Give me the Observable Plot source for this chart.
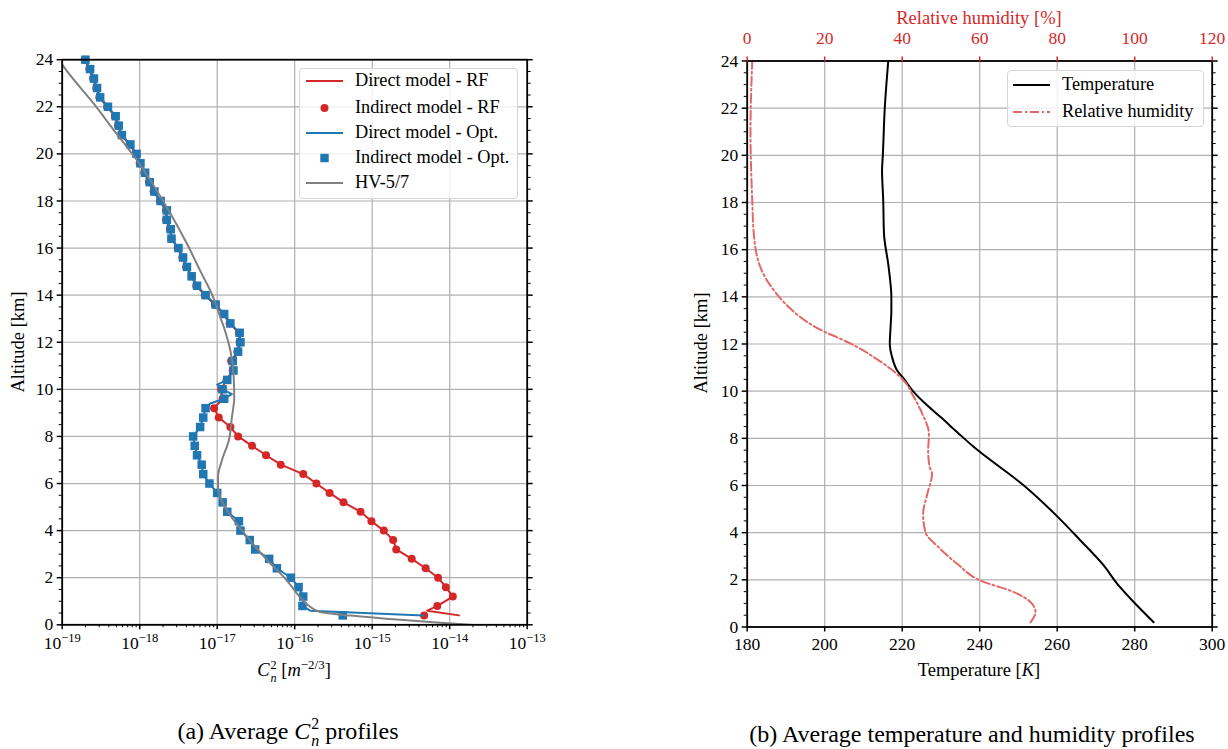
<!DOCTYPE html>
<html><head><meta charset="utf-8">
<script src="https://cdn.jsdelivr.net/npm/d3@7"></script>
<script src="https://cdn.jsdelivr.net/npm/@observablehq/plot@0.6"></script>
<style>
body{margin:0;background:#fff;font-family:"Liberation Serif","DejaVu Serif",serif;color:#000;}
#root{position:relative;width:1228px;height:749px;overflow:hidden;background:#fff;}
.abs{position:absolute;white-space:nowrap;}
.lbl{font-size:18.5px;}
.cap{font-size:24px;}
.legend{position:absolute;border:1px solid #d5d5d5;border-radius:4px;background:rgba(255,255,255,0.8);box-sizing:border-box;}
.legend .row{position:absolute;left:0;right:0;height:0;}
.legend .txt{position:absolute;font-size:18.3px;transform:translateY(-52%);white-space:nowrap;}
.mathsub{display:inline-flex;flex-direction:column;vertical-align:middle;font-size:0.66em;line-height:1.05;margin-left:1px;}
</style></head><body><div id="root"></div><script>
// ---------- data ----------
// Altitudes (km) of the indirect-model samples
const indirectAlt = [0.4,0.8,1.2,1.6,2.0,2.4,2.8,3.2,3.6,4.0,4.4,4.8,5.2,5.6,6.0,6.4,6.8,7.2,7.6,8.0,8.4,8.8,9.2,9.6,10.0,10.4,10.8,11.2,11.6,12.0,12.4,12.8,13.2,13.6,14.0,14.4,14.8,15.2,15.6,16.0,16.4,16.8,17.2,17.6,18.0,18.4,18.8,19.2,19.6,20.0,20.4,20.8,21.2,21.6,22.0,22.4,22.8,23.2,23.6,24.0];
// log10(Cn2) of indirect model - Opt.
const indirectOptLog = [-15.38,-15.90,-15.89,-15.95,-16.05,-16.23,-16.33,-16.51,-16.58,-16.70,
  -16.72,-16.87,-16.93,-17.00,-17.10,-17.18,-17.20,-17.26,-17.29,-17.31,
  -17.22,-17.18,-17.15,-16.91,-16.93,-16.87,-16.79,-16.80,-16.73,-16.70,
  -16.71,-16.83,-16.91,-17.02,-17.15,-17.26,-17.33,-17.39,-17.44,-17.50,
  -17.59,-17.60,-17.65,-17.65,-17.73,-17.81,-17.87,-17.93,-17.99,-18.04,
  -18.12,-18.23,-18.27,-18.31,-18.41,-18.51,-18.55,-18.59,-18.64,-18.70];
// log10(Cn2) of indirect model - RF
const indirectRfLog = [-14.33,-14.16,-13.96,-14.05,-14.15,-14.31,-14.49,-14.69,-14.73,-14.85,
  -15.01,-15.15,-15.37,-15.55,-15.72,-15.89,-16.18,-16.37,-16.55,-16.73,
  -16.83,-16.98,-17.04,-16.93,-16.95,-16.88,-16.80,-16.82,-16.74,-16.71,
  -16.72,-16.84,-16.92,-17.03,-17.16,-17.27,-17.33,-17.40,-17.45,-17.51,
  -17.59,-17.61,-17.66,-17.66,-17.74,-17.82,-17.88,-17.94,-18.00,-18.05,
  -18.13,-18.24,-18.28,-18.32,-18.42,-18.52,-18.56,-18.60,-18.65,-18.71];
// Direct model - RF
const directRfAlt = [0.4,0.6,0.8,1.2,1.6,2.0,2.4,2.8,3.2,3.6,4.0,4.4,4.8,5.2,5.6,6.0,6.4,6.8,7.2,7.6,8.0,8.4,8.8,9.2,9.6,10.0,10.4,10.8,11.2,11.6,12.0,12.4,12.8,13.2,13.6,14.0,14.4,14.8,15.2,15.6,16.0,16.4,16.8,17.2,17.6,18.0,18.4,18.8,19.2,19.6,20.0,20.4,20.8,21.2,21.6,22.0,22.4,22.8,23.2,23.6,24.0];
const directRfLog = [-13.88,-14.29,-14.16,-13.96,-14.05,-14.15,-14.31,-14.49,-14.69,-14.73,-14.85,
  -15.01,-15.15,-15.37,-15.55,-15.72,-15.89,-16.18,-16.37,-16.55,-16.73,
  -16.83,-16.98,-17.04,-16.93,-16.95,-16.88,-16.80,-16.82,-16.74,-16.71,
  -16.72,-16.84,-16.92,-17.03,-17.16,-17.27,-17.33,-17.40,-17.45,-17.51,
  -17.59,-17.61,-17.66,-17.66,-17.74,-17.82,-17.88,-17.94,-18.00,-18.05,
  -18.13,-18.24,-18.28,-18.32,-18.42,-18.52,-18.56,-18.60,-18.65,-18.71];
// Direct model - Opt.
const directOptAlt = [0.4,0.6,0.8,1.2,1.6,2.0,2.4,2.8,3.2,3.6,4.0,4.4,4.8,5.2,5.6,6.0,6.4,6.8,7.2,7.6,8.0,8.4,8.8,9.2,9.4,9.6,9.8,10.0,10.2,10.4,10.8,11.2,11.6,12.0,12.4,12.8,13.2,13.6,14.0,14.4,14.8,15.2,15.6,16.0,16.4,16.8,17.2,17.6,18.0,18.4,18.8,19.2,19.6,20.0,20.4,20.8,21.2,21.6,22.0,22.4,22.8,23.2,23.6,24.0];
const directOptLog = [-14.34,-15.80,-15.90,-15.89,-15.95,-16.05,-16.23,-16.33,-16.51,-16.58,-16.70,
  -16.72,-16.87,-16.93,-17.00,-17.10,-17.18,-17.20,-17.26,-17.29,-17.31,
  -17.22,-17.18,-17.15,-17.09,-16.91,-16.81,-16.93,-17.00,-16.87,-16.79,-16.80,-16.73,-16.70,
  -16.71,-16.83,-16.91,-17.02,-17.15,-17.26,-17.33,-17.39,-17.44,-17.50,
  -17.59,-17.60,-17.65,-17.65,-17.73,-17.81,-17.87,-17.93,-17.99,-18.04,
  -18.12,-18.23,-18.27,-18.31,-18.41,-18.51,-18.55,-18.59,-18.64,-18.70];
// HV-5/7 reference profile
const hvAlt = [0,0.11,0.21,0.39,0.54,0.82,1.17,1.88,2.73,3.72,4.64,5.42,5.84,6.27,6.98,7.83,8.82,9.66,10.66,11.65,12.5,13.06,13.98,15.04,16.18,17.45,19.93,20.99,22.12,23.75,24.0];
const hvLog = [-13.73,-14.21,-14.64,-15.28,-15.67,-15.82,-15.93,-16.10,-16.35,-16.61,-16.83,-16.96,-16.99,-16.99,-16.94,-16.85,-16.81,-16.78,-16.79,-16.83,-16.90,-16.96,-17.06,-17.22,-17.39,-17.60,-18.08,-18.33,-18.59,-18.99,-19.04];
// Temperature profile
const tempAlt = [0.2,1.05,1.83,2.61,3.67,4.66,6.0,7.63,8.26,8.9,9.39,9.96,10.53,10.88,11.44,12.01,12.71,13.42,13.99,15.26,16.68,18.09,19.36,20.0,22.0,24.0];
const tempK = [284.9,279.8,275.5,272.0,266.0,260.2,251.4,238.5,234.2,229.9,226.5,223.0,220.4,218.7,217.4,216.8,217.0,217.2,217.2,216.5,215.3,215.1,214.8,215.0,215.5,216.4];
// Relative humidity profile
const rhAlt = [0.2,0.63,1.06,1.48,1.97,2.68,3.38,4.02,4.8,5.65,6.5,6.78,7.46,8.19,9.04,9.75,10.45,10.95,11.44,11.87,12.22,12.53,12.93,13.49,14.27,15.26,16.68,18.09,21.0,24.0];
const rhPct = [73.1,74.4,73.1,68.8,60.2,54.2,49.4,46.0,45.4,46.5,47.7,47.1,46.7,46.9,45.2,43.0,40.4,37.0,32.7,28.4,24.1,19.8,15.5,11.2,6.9,3.4,1.7,1.3,0.85,1.3];
// Tick labels
const cnTickExp = [-19,-18,-17,-16,-15,-14,-13];
const altTicks = [0,2,4,6,8,10,12,14,16,18,20,22,24];
const tempTicks = [180,200,220,240,260,280,300];
const rhTicks = [0,20,40,60,80,100,120];

// ---------- build ----------
const FONT = "'Liberation Serif','DejaVu Serif',serif";
const RED = "#d62728", BLUE = "#1f77b4", GRAY = "#808080", RHCOL = "#e26868", GRID = "#b0b0b0";
const TICKFS = 17.5;
const p10 = e => Math.pow(10, e);
const rfDots = indirectAlt.map((a, i) => ({alt: a, v: p10(indirectRfLog[i])}));
const optDots = indirectAlt.map((a, i) => ({alt: a, v: p10(indirectOptLog[i])}));
const rfLine = directRfAlt.map((a, i) => ({alt: a, v: p10(directRfLog[i])}));
const optLine = directOptAlt.map((a, i) => ({alt: a, v: p10(directOptLog[i])}));
const hv = hvAlt.map((a, i) => ({alt: a, v: p10(hvLog[i])}));
const temp = tempAlt.map((a, i) => ({alt: a, t: tempK[i]}));
// humidity 0–120 % shares the 180–300 K axis span
const rh = rhAlt.map((a, i) => ({alt: a, x: 180 + rhPct[i]}));
const cnTicks = cnTickExp.map(p10);
const minorX = [];
for (const e of cnTickExp.slice(0, -1)) for (let k = 2; k <= 9; k++) minorX.push(k * p10(e));
const minorY = d3.range(0, 24.01, 0.5).filter(v => Math.abs(v % 2) > 1e-6);

const root = document.getElementById("root");
const style = {fontFamily: FONT, fontSize: TICKFS + "px", background: "transparent", color: "black", overflow: "visible"};
const blank = () => "";

const left = Plot.plot({
  width: 600, height: 700,
  marginLeft: 61.7, marginRight: 73.3, marginTop: 59.2, marginBottom: 75.7,
  x: {type: "log", domain: [1e-19, 1e-13], label: null},
  y: {domain: [0, 24], label: null},
  style,
  marks: [
    Plot.gridX(cnTicks, {stroke: GRID, strokeOpacity: 1, strokeWidth: 1.2}),
    Plot.gridY(altTicks, {stroke: GRID, strokeOpacity: 1, strokeWidth: 1.2}),
    Plot.line(rfLine, {x: "v", y: "alt", stroke: RED, strokeWidth: 2, clip: true}),
    Plot.dot(rfDots, {x: "v", y: "alt", r: 4, fill: RED, symbol: "circle"}),
    Plot.line(optLine, {x: "v", y: "alt", stroke: BLUE, strokeWidth: 2, clip: true}),
    Plot.dot(optDots, {x: "v", y: "alt", r: 4.8, fill: BLUE, symbol: "square"}),
    Plot.line(hv, {x: "v", y: "alt", stroke: GRAY, strokeWidth: 2, curve: "monotone-y", clip: true}),
    Plot.frame({stroke: "black", strokeWidth: 1.8}),
    Plot.axisX(cnTicks, {anchor: "bottom", label: null, tickSize: 5, tickPadding: 7, strokeWidth: 1.5, fontSize: TICKFS, tickFormat: d => String(Math.round(Math.log10(d)))}),
    Plot.axisX(minorX, {anchor: "bottom", label: null, tickSize: 3, strokeWidth: 1, tickFormat: blank}),
    Plot.axisY(altTicks, {anchor: "left", label: null, tickSize: 5, tickPadding: 4, strokeWidth: 1.5, fontSize: TICKFS}),
    Plot.axisY(minorY, {anchor: "left", label: null, tickSize: 3, strokeWidth: 1, tickFormat: blank}),
    Plot.axisY(altTicks, {anchor: "right", label: null, tickSize: 5, strokeWidth: 1.5, tickFormat: blank}),
    Plot.axisY(minorY, {anchor: "right", label: null, tickSize: 3, strokeWidth: 1, tickFormat: blank})
  ]
});
// superscripted exponents on the log axis
left.querySelectorAll('g[aria-label="x-axis tick label"] text').forEach(t => {
  const s = t.textContent.trim();
  if (!s) return;
  const n = +s;
  t.textContent = "";
  const base = document.createElementNS("http://www.w3.org/2000/svg", "tspan");
  base.textContent = "10";
  const sup = document.createElementNS("http://www.w3.org/2000/svg", "tspan");
  sup.setAttribute("dy", "-0.55em");
  sup.setAttribute("font-size", "12.5px");
  sup.textContent = (n < 0 ? "\u2212" : "") + Math.abs(n);
  t.appendChild(base); t.appendChild(sup);
});
left.style.position = "absolute"; left.style.left = "0px"; left.style.top = "0px";
root.appendChild(left);

const right = Plot.plot({
  width: 614, height: 700,
  marginLeft: 132.7, marginRight: 16.3, marginTop: 60.5, marginBottom: 73.5,
  x: {domain: [180, 300], label: null},
  y: {domain: [0, 24], label: null},
  style,
  marks: [
    Plot.gridX(tempTicks, {stroke: GRID, strokeOpacity: 1, strokeWidth: 1.2}),
    Plot.gridY(altTicks, {stroke: GRID, strokeOpacity: 1, strokeWidth: 1.2}),
    Plot.line(temp, {x: "t", y: "alt", stroke: "black", strokeWidth: 2, curve: "monotone-y"}),
    Plot.line(rh, {x: "x", y: "alt", stroke: RHCOL, strokeWidth: 2, strokeDasharray: "9,3,2,3", curve: "monotone-y"}),
    Plot.frame({stroke: "black", strokeWidth: 1.8}),
    Plot.axisX(tempTicks, {anchor: "bottom", label: null, tickSize: 5, tickPadding: 6, strokeWidth: 1.5, fontSize: TICKFS}),
    Plot.axisX(tempTicks, {anchor: "top", label: null, tickSize: 5, tickPadding: 12, strokeWidth: 1.5, fontSize: TICKFS, color: RED, tickFormat: (d, i) => String(rhTicks[i])}),
    Plot.axisY(altTicks, {anchor: "left", label: null, tickSize: 5, tickPadding: 4, strokeWidth: 1.5, fontSize: TICKFS}),
    Plot.axisY(minorY, {anchor: "left", label: null, tickSize: 3, strokeWidth: 1, tickFormat: blank}),
    Plot.axisY(altTicks, {anchor: "right", label: null, tickSize: 5, strokeWidth: 1.5, tickFormat: blank}),
    Plot.axisY(minorY, {anchor: "right", label: null, tickSize: 3, strokeWidth: 1, tickFormat: blank})
  ]
});
right.style.position = "absolute"; right.style.left = "614px"; right.style.top = "0px";
root.appendChild(right);

// ---------- text overlays ----------
function addDiv(html, css, cls = "abs") {
  const d = document.createElement("div");
  d.className = cls;
  d.innerHTML = html;
  Object.assign(d.style, css);
  root.appendChild(d);
  return d;
}
addDiv("Altitude [km]", {left: "18px", top: "342px", transform: "translate(-50%,-50%) rotate(-90deg)"}, "abs lbl");
addDiv("Altitude [km]", {left: "701px", top: "343px", transform: "translate(-50%,-50%) rotate(-90deg)"}, "abs lbl");
addDiv('<i>C</i><span class="mathsub"><span>2</span><i>n</i></span> [<i>m</i><sup style="font-size:0.7em">\u22122/3</sup>]', {left: "294px", top: "671px", transform: "translate(-50%,-50%)"}, "abs lbl");
addDiv("Temperature [<i>K</i>]", {left: "979px", top: "670px", transform: "translate(-50%,-50%)"}, "abs lbl");
addDiv("Relative humidity [%]", {left: "979px", top: "18px", transform: "translate(-50%,-50%)", color: RED}, "abs lbl");
addDiv('(a) Average <i>C</i><span class="mathsub"><span>2</span><i>n</i></span> profiles', {left: "288px", top: "733px", transform: "translate(-50%,-50%)"}, "abs cap");
addDiv("(b) Average temperature and humidity profiles", {left: "972px", top: "734px", transform: "translate(-50%,-50%)"}, "abs cap");

// ---------- legends ----------
function legend(box, items) {
  const L = document.createElement("div");
  L.className = "legend";
  Object.assign(L.style, {left: box.x + "px", top: box.y + "px", width: box.w + "px", height: box.h + "px"});
  items.forEach(it => {
    const row = document.createElement("div");
    row.className = "row";
    row.style.top = it.y + "px";
    const svgNS = "http://www.w3.org/2000/svg";
    const s = document.createElementNS(svgNS, "svg");
    s.setAttribute("width", 50); s.setAttribute("height", 16);
    s.style.position = "absolute"; s.style.left = "0px"; s.style.top = "-8px";
    if (it.kind === "line") {
      const l = document.createElementNS(svgNS, "line");
      l.setAttribute("x1", box.lx1); l.setAttribute("x2", box.lx2); l.setAttribute("y1", 8); l.setAttribute("y2", 8);
      l.setAttribute("stroke", it.color); l.setAttribute("stroke-width", 2);
      if (it.dash) l.setAttribute("stroke-dasharray", it.dash);
      s.appendChild(l);
    } else if (it.kind === "circle") {
      const c = document.createElementNS(svgNS, "circle");
      c.setAttribute("cx", (box.lx1 + box.lx2) / 2); c.setAttribute("cy", 8); c.setAttribute("r", 4);
      c.setAttribute("fill", it.color); s.appendChild(c);
    } else {
      const r = document.createElementNS(svgNS, "rect");
      const cx = (box.lx1 + box.lx2) / 2;
      r.setAttribute("x", cx - 4.2); r.setAttribute("y", 3.8); r.setAttribute("width", 8.4); r.setAttribute("height", 8.4);
      r.setAttribute("fill", it.color); s.appendChild(r);
    }
    row.appendChild(s);
    const t = document.createElement("div");
    t.className = "txt";
    t.style.left = box.tx + "px";
    t.textContent = it.label;
    row.appendChild(t);
    L.appendChild(row);
  });
  root.appendChild(L);
}
legend({x: 299, y: 67.5, w: 219, h: 131.5, lx1: 6, lx2: 43, tx: 55}, [
  {label: "Direct model - RF", kind: "line", color: RED, y: 12.5},
  {label: "Indirect model - RF", kind: "circle", color: RED, y: 39},
  {label: "Direct model - Opt.", kind: "line", color: BLUE, y: 64},
  {label: "Indirect model - Opt.", kind: "square", color: BLUE, y: 89},
  {label: "HV-5/7", kind: "line", color: GRAY, y: 114}
]);
legend({x: 1007, y: 69.5, w: 197, h: 57.5, lx1: 5, lx2: 42, tx: 54}, [
  {label: "Temperature", kind: "line", color: "black", y: 14.2},
  {label: "Relative humidity", kind: "line", color: RHCOL, dash: "9,3,2,3", y: 41.2}
]);
</script></body></html>
